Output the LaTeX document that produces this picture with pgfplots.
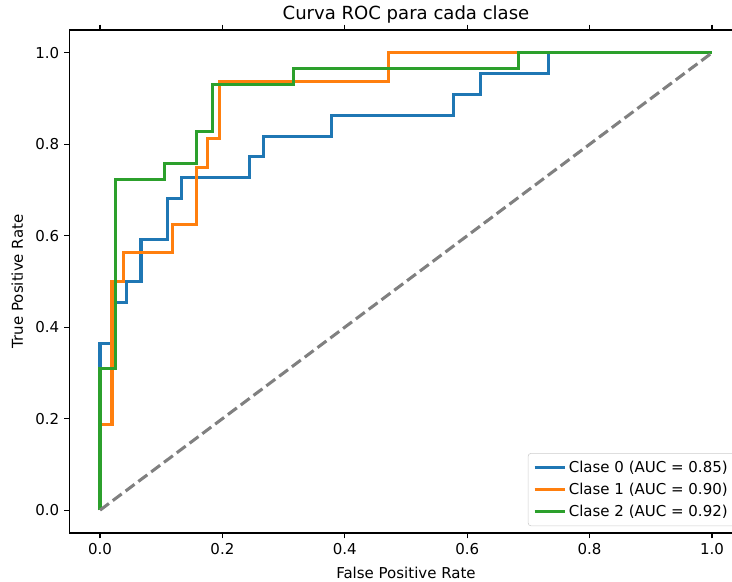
\documentclass[border=0pt]{standalone}
\usepackage{fontspec}
\setmainfont{DejaVu Sans}
\usepackage{pgfplots}
\pgfplotsset{compat=1.18}
\definecolor{c0}{HTML}{1F77B4}
\definecolor{c1}{HTML}{FF7F0E}
\definecolor{c2}{HTML}{2CA02C}
\definecolor{diag}{HTML}{808080}
\begin{document}
\begin{tikzpicture}
\begin{axis}[
  scale only axis, width=484.7pt, height=362.2pt,
  xmin=-0.05, xmax=1.05, ymin=-0.05, ymax=1.05,
  xtick={0,0.2,0.4,0.6,0.8,1}, ytick={0,0.2,0.4,0.6,0.8,1},
  /pgf/number format/.cd, fixed, fixed zerofill, precision=1, assume math mode=true, /pgfplots/.cd,
  tick align=outside, major tick length=3.8pt,
  tick style={black, line width=0.85pt},
  axis line style={line width=0.85pt},
  tick label style={font=\fontsize{10.8}{13}\selectfont},
  label style={font=\fontsize{10.8}{13}\selectfont},
  xlabel style={yshift=-2pt}, ylabel style={yshift=2pt},
  title={Curva ROC para cada clase},
  title style={font=\fontsize{13}{15}\selectfont, yshift=-5pt},
  xlabel={False Positive Rate}, ylabel={True Positive Rate},
  legend cell align=left,
  legend style={at={(1,0)}, anchor=south east, xshift=-5pt, yshift=5pt,
    draw=black!20, rounded corners=2pt, fill=white, font=\fontsize{10.8}{13}\selectfont,
    row sep=2pt, inner sep=3.5pt},
  legend image code/.code={\draw[#1] (0pt,0pt) -- (21.6pt,0pt);},
]
\addplot[c0, line width=2.2pt] coordinates {
(0,0) (0,0.364) (0.022,0.364) (0.022,0.4545) (0.044,0.4545) (0.044,0.5)
(0.067,0.5) (0.067,0.591) (0.111,0.591) (0.111,0.682) (0.133,0.682) (0.133,0.727)
(0.244,0.727) (0.244,0.773) (0.267,0.773) (0.267,0.818) (0.378,0.818) (0.378,0.864)
(0.578,0.864) (0.578,0.909) (0.622,0.909) (0.622,0.955) (0.733,0.955) (0.733,1) (1,1)};
\addlegendentry{Clase 0 (AUC = 0.85)}
\addplot[c1, line width=2.2pt] coordinates {
(0,0) (0,0.1875) (0.0196,0.1875) (0.0196,0.5) (0.039,0.5) (0.039,0.5625)
(0.118,0.5625) (0.118,0.625) (0.157,0.625) (0.157,0.75) (0.176,0.75) (0.176,0.8125)
(0.196,0.8125) (0.196,0.9375) (0.471,0.9375) (0.471,1) (1,1)};
\addlegendentry{Clase 1 (AUC = 0.90)}
\addplot[c2, line width=2.2pt] coordinates {
(0,0) (0,0.310) (0.026,0.310) (0.026,0.724) (0.105,0.724) (0.105,0.759)
(0.158,0.759) (0.158,0.828) (0.184,0.828) (0.184,0.931) (0.316,0.931) (0.316,0.966)
(0.684,0.966) (0.684,1) (1,1)};
\addlegendentry{Clase 2 (AUC = 0.92)}
\addplot[diag, line width=2.2pt, dash pattern=on 8pt off 3.5pt, forget plot] coordinates {(0,0) (1,1)};
\coordinate (bbsw) at (rel axis cs:-0.1031,-0.0954);
\coordinate (bbne) at (rel axis cs:0.9843,1.0596);
\end{axis}
\pgfresetboundingbox
\useasboundingbox (bbsw) rectangle (bbne);
\end{tikzpicture}
\end{document}
